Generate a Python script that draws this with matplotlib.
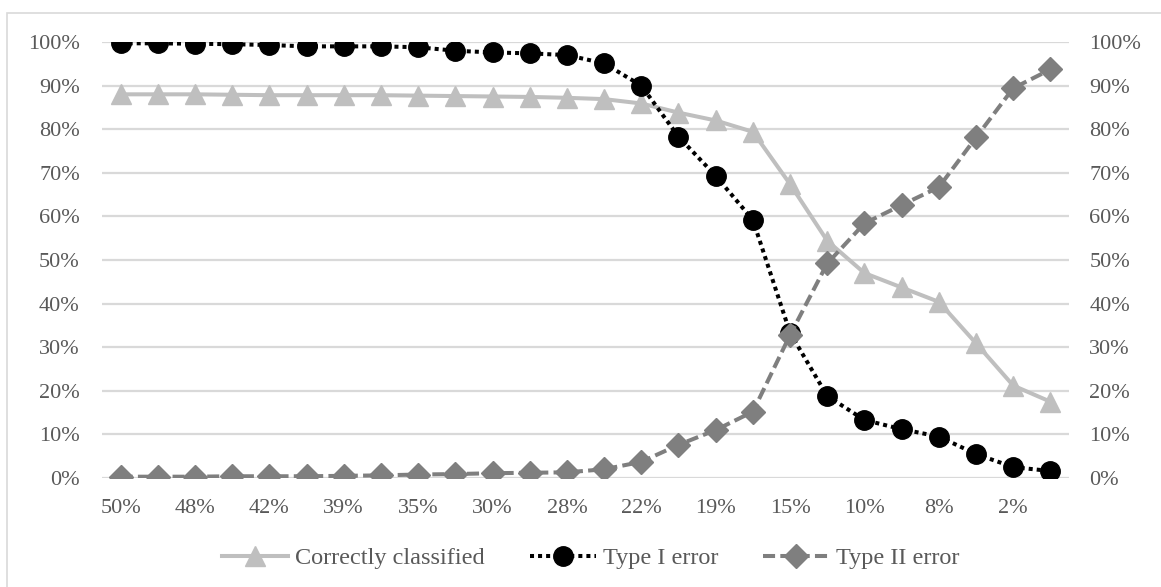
import numpy as np
import matplotlib
matplotlib.use("Agg")
import matplotlib.pyplot as plt
from matplotlib.patches import Rectangle
from matplotlib.ticker import PercentFormatter

# ---- data ----
tick_labels = ["50%", "48%", "42%", "39%", "35%", "30%", "28%", "22%",
               "19%", "15%", "10%", "8%", "2%"]
correctly_classified = [88.0, 88.0, 88.0, 87.9, 87.8, 87.8, 87.8, 87.8,
                        87.7, 87.6, 87.5, 87.4, 87.2, 86.9, 85.9, 83.8,
                        82.0, 79.4, 67.4, 54.4, 47.0, 43.7, 40.4, 30.9,
                        21.2, 17.5]
type_i_error = [99.7, 99.7, 99.6, 99.5, 99.3, 99.0, 99.0, 99.0,
                98.8, 98.0, 97.6, 97.4, 97.0, 95.1, 90.0, 78.3,
                69.3, 59.2, 33.3, 18.8, 13.3, 11.2, 9.5, 5.5,
                2.5, 1.6]
type_ii_error = [0.3, 0.3, 0.3, 0.4, 0.4, 0.4, 0.5, 0.6,
                 0.8, 0.9, 1.1, 1.2, 1.3, 2.0, 3.7, 7.6,
                 11.0, 15.2, 32.8, 49.2, 58.4, 62.6, 66.7, 78.1,
                 89.4, 93.7]
series_names = ["Correctly classified", "Type I error", "Type II error"]

plt.rcParams['font.family'] = ['Liberation Serif', 'DejaVu Serif']
txt_color = "#595959"

W, H = 1161, 587
fig = plt.figure(figsize=(W / 100, H / 100), dpi=100)
ax = fig.add_axes([102 / W, 1 - 478 / H, (1069 - 102) / W, (478 - 42) / H])

n = len(correctly_classified)
x = np.arange(n)

ax.plot(x, correctly_classified, color="#BFBFBF", lw=2.9, marker="^",
        markersize=15, markeredgecolor="#BFBFBF", markerfacecolor="#BFBFBF",
        solid_joinstyle="round", label=series_names[0], zorder=3)
ax.plot(x, type_i_error, color="black", lw=2.9, linestyle=(0, (1, 1)),
        dash_capstyle="butt", marker="o", markersize=14,
        markerfacecolor="black", markeredgecolor="black",
        label=series_names[1], zorder=4)
ax.plot(x, type_ii_error, color="#7F7F7F", lw=2.9, linestyle=(0, (3, 1.3)),
        dash_capstyle="butt", marker="D", markersize=12,
        markerfacecolor="#7F7F7F", markeredgecolor="#7F7F7F",
        label=series_names[2], zorder=5)

ax.set_xlim(-0.5, n - 0.5)
ax.set_ylim(0, 100)
ax.set_yticks(np.arange(0, 101, 10))
ax.yaxis.set_major_formatter(PercentFormatter(decimals=0))
ax.set_xticks(x[::2])
ax.set_xticklabels(tick_labels)

ax.grid(axis="y", color="#D9D9D9", lw=1.6, zorder=0)
ax.set_axisbelow(True)
for s in ax.spines.values():
    s.set_visible(False)

ax.tick_params(axis="both", length=0, labelsize=16, labelcolor=txt_color)
ax.tick_params(axis="y", labelright=True, right=False)
ax.tick_params(axis="x", pad=15)
ax.tick_params(axis="y", pad=16)

# right-side labels slightly closer to the plot
off = matplotlib.transforms.ScaledTranslation(-2 / 100, 0, fig.dpi_scale_trans)
for t in ax.yaxis.get_major_ticks():
    t.label2.set_transform(t.label2.get_transform() + off)

leg = fig.legend(loc="center", bbox_to_anchor=(0.509, 1 - 558 / H), ncol=3,
                 frameon=False, fontsize=17.5, handlelength=2.7,
                 columnspacing=1.85, handletextpad=0.3)
for t in leg.get_texts():
    t.set_color(txt_color)

# chart area border (cropped at right/bottom)
fig.patches.append(Rectangle((7 / W, -0.1), 1.2, 1 - 13 / H + 0.1,
                             transform=fig.transFigure, fill=False,
                             edgecolor="#D9D9D9", lw=1.2))

fig.savefig("out.png", dpi=100)
